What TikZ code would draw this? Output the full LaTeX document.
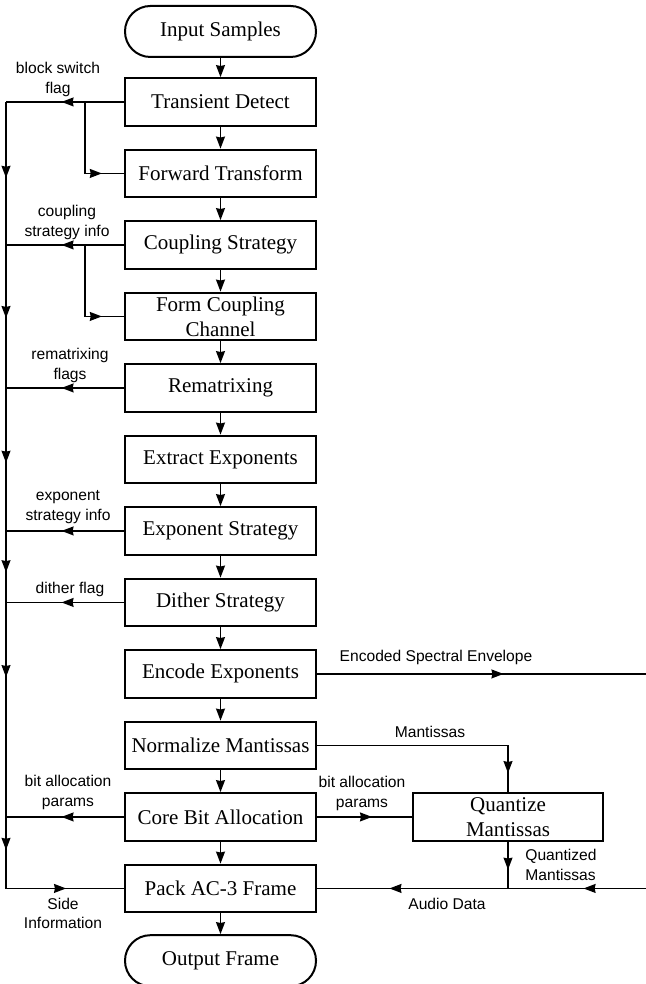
\documentclass[tikz,border=0pt]{standalone}
\usepackage{fontspec}
\setmainfont{Liberation Serif}
\setsansfont{Liberation Sans}
\usetikzlibrary{arrows.meta,positioning,calc,decorations.markings}

\tikzset{
  hd/.tip={Stealth[length=6pt,width=4.4pt,inset=0.4pt]},
  block/.style={draw, line width=1pt, minimum width=95.5pt, minimum height=23.75pt,
    inner sep=1pt, align=center, font=\fontsize{10.5}{12.5}\selectfont},
  term/.style={block, rounded corners=12.7pt, minimum height=25.5pt},
  sig/.style={font=\sffamily\fontsize{7.8}{9.6}\selectfont, align=center, inner sep=0pt},
  wire/.style={line width=0.9pt},
  arrowat/.style={postaction={decorate,
    decoration={markings, mark=at position #1 with {\arrow{hd}}}}},
}

\begin{document}
\begin{tikzpicture}[x=1pt,y=1pt]
    \useasboundingbox (0,0) rectangle (322.5,492);

    % main column
    \node[term] (input) at (110.25,476.25) {Input Samples};
    \node[block, below=9.6pt of input] (transient) {Transient Detect};
    \node[block, below=11pt of transient] (forward) {Forward Transform};
    \node[block, below=11pt of forward] (coupling) {Coupling Strategy};
    \node[block, below=11pt of coupling] (formcpl) {Form Coupling\\Channel};
    \node[block, below=11pt of formcpl] (remat) {Rematrixing};
    \node[block, below=11pt of remat] (extract) {Extract Exponents};
    \node[block, below=11pt of extract] (expstrat) {Exponent Strategy};
    \node[block, below=11pt of expstrat] (dither) {Dither Strategy};
    \node[block, below=11pt of dither] (encode) {Encode Exponents};
    \node[block, below=11pt of encode] (normal) {Normalize Mantissas};
    \node[block, below=11pt of normal] (corebit) {Core Bit Allocation};
    \node[block, below=11pt of corebit] (pack) {Pack AC-3 Frame};
    \node[term, below=10.5pt of pack] (output) {Output Frame};
    \node[block, minimum width=95pt, right=47.5pt of corebit] (quant) {Quantize\\Mantissas};

    \foreach \a/\b in {input/transient, transient/forward, forward/coupling,
        coupling/formcpl, formcpl/remat, remat/extract, extract/expstrat,
        expstrat/dither, dither/encode, encode/normal, normal/corebit,
        corebit/pack, pack/output}
        \draw[wire, -hd] (\a.south) -- (\b.north);

    % side information bus
    \coordinate[left=59pt of transient.west] (bustop);
    \coordinate[left=59pt of pack.west] (busbot);
    \coordinate[left=19.5pt of transient.west] (brtr);
    \coordinate[left=19.5pt of coupling.west] (brcp);

    \draw[wire, arrowat=0.53] (transient.west) -- (bustop);
    \draw[wire, arrowat=0.8] (brtr) |- (forward.west);
    \draw[wire, arrowat=0.53] (coupling.west) -- (bustop |- coupling.west);
    \draw[wire, arrowat=0.8] (brcp) |- (formcpl.west);
    \draw[wire, arrowat=0.53] (remat.west) -- (bustop |- remat.west);
    \draw[wire, arrowat=0.53] (expstrat.west) -- (bustop |- expstrat.west);
    \draw[wire, arrowat=0.53] (dither.west) -- (bustop |- dither.west);
    \draw[wire, arrowat=0.53] (corebit.west) -- (bustop |- corebit.west);
    \draw[wire, arrowat=0.084, arrowat=0.239, arrowat=0.399, arrowat=0.52,
        arrowat=0.636, arrowat=0.827, arrowat=0.936]
        (bustop) -- (busbot) -- (pack.west);

    \node[sig] (lblblk) at (29,452.25) {block switch\\flag};
    \node[sig] (lblcpl) at (33.5,380.75) {coupling\\strategy info};
    \node[sig] (lblrem) at (35,309.25) {rematrixing\\flags};
    \node[sig] (lblexp) at (34,238.5) {exponent\\strategy info};
    \node[sig] (lbldth) at (35,197.5) {dither flag};
    \node[sig] (lblbal) at (34,95.75) {bit allocation\\params};
    \node[sig] (lblside) at (31.5,35.25) {Side\\Information};

    % spectral envelope and mantissa path
    \coordinate[right=164.5pt of encode.east] (envout);
    \coordinate[right=164.5pt of pack.east] (audin);
    \coordinate (qjoin) at (quant.south |- pack.east);

    \draw[wire, arrowat=0.567] (encode.east) -- (envout);
    \draw[wire, arrowat=0.92] (normal.east) -| (quant.north);
    \draw[wire, arrowat=0.58] (corebit.east) -- (quant.west);
    \draw[wire, arrowat=0.6] (quant.south) -- (qjoin);
    \draw[wire, arrowat=0.19, arrowat=0.78] (audin) -- (pack.east);

    \node[sig] (lblenv) at (218,163.5) {Encoded Spectral Envelope};
    \node[sig] (lblman) at (215,126) {Mantissas};
    \node[sig] (lblbal2) at (181,95.25) {bit allocation\\params};
    \node[sig, anchor=west, align=left] (lblqnt) at (262.5,59.5) {Quantized\\Mantissas};
    \node[sig] (lblaud) at (223.5,40) {Audio Data};
\end{tikzpicture}
\end{document}
